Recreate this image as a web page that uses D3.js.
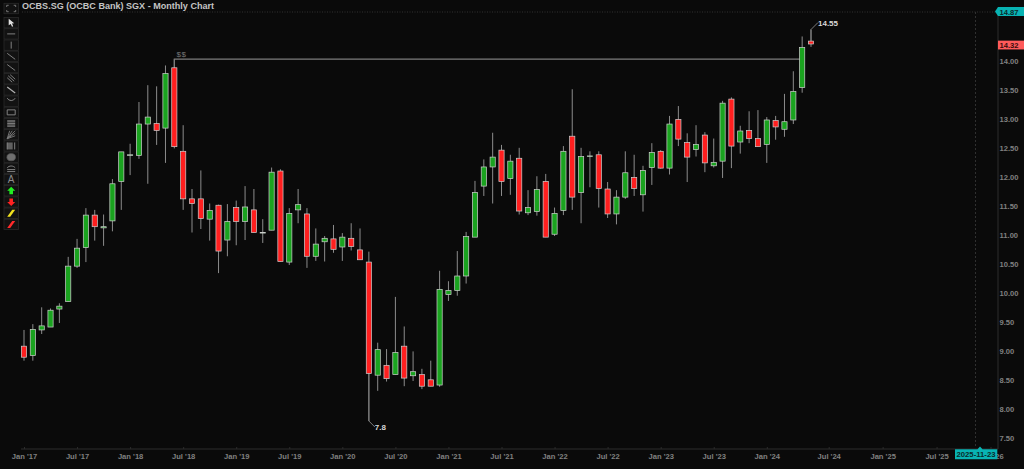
<!DOCTYPE html>
<html>
<head>
<meta charset="utf-8">
<script src="https://cdn.jsdelivr.net/npm/d3@7"></script>
<style>
  html, body { margin: 0; padding: 0; background: #0a0a0a; overflow: hidden; }
  svg { display: block; font-family: "Liberation Sans", Arial, sans-serif; }
  .axis-label { fill: #808080; font-size: 7.6px; font-weight: bold; }
</style>
</head>
<body>
<div id="chart"></div>
<script>
// monthly bars, Jan 2017 to Jun 2024
var opens = [9.09,8.93,9.37,9.42,9.73,9.86,10.47,10.79,11.35,11.13,11.25,11.93,
  12.38,12.38,12.92,12.93,12.85,13.89,12.45,11.63,11.63,11.28,11.52,10.92,
  11.48,11.24,11.44,11.04,11.09,12.11,10.54,11.44,11.37,10.64,10.89,10.94,
  10.80,10.95,10.75,10.54,8.59,8.76,8.60,9.09,8.58,8.60,8.51,8.42,
  9.98,10.05,10.30,10.97,11.85,12.18,12.47,11.98,12.33,11.39,11.41,11.93,
  11.02,11.43,12.71,11.74,12.36,12.39,11.80,11.37,11.66,12.00,11.70,12.17,
  12.45,12.16,13.00,12.60,12.48,12.73,12.20,12.28,13.35,12.61,12.81,12.67,
  12.57,12.98,12.83,12.99,13.55,14.35];
var highs = [9.37,9.47,9.76,9.74,9.83,10.63,10.94,11.47,11.44,11.36,11.97,12.44,
  12.58,13.30,13.59,13.57,13.93,14.04,12.90,11.80,12.12,11.55,11.53,11.54,
  11.60,11.85,11.80,11.28,12.17,12.14,11.47,11.80,11.47,11.12,10.99,11.18,
  11.04,11.21,11.12,10.72,9.15,9.04,9.94,9.43,9.00,8.70,8.84,10.39,
  10.21,10.73,11.06,11.94,12.31,12.77,12.56,12.39,12.51,11.78,12.02,12.06,
  11.48,12.54,13.52,12.51,12.45,12.45,11.92,11.78,12.45,12.39,12.20,12.59,
  12.47,13.06,13.23,12.76,12.90,12.78,12.67,13.32,13.38,12.89,13.14,13.16,
  13.04,13.06,13.44,13.83,14.43,14.55];
var lows = [8.84,8.84,9.30,9.42,9.49,9.86,10.44,10.54,10.91,10.82,11.07,11.44,
  12.04,12.32,11.89,12.56,12.25,12.50,11.44,11.05,11.11,10.91,10.35,10.64,
  10.83,10.92,11.05,10.87,11.09,10.55,10.49,11.21,10.44,10.56,10.55,10.70,
  10.56,10.74,10.58,7.80,8.32,8.48,8.60,8.40,8.49,8.35,8.40,8.39,
  9.87,9.96,10.17,10.97,11.68,11.55,11.68,11.70,11.36,11.35,11.34,10.97,
  10.99,11.35,11.44,11.21,11.83,11.48,11.30,11.19,11.63,11.68,11.41,11.87,
  12.15,12.05,12.54,11.92,12.36,12.09,12.17,11.99,12.16,12.41,12.59,12.53,
  12.25,12.65,12.70,12.92,13.46,14.25];
var closes = [8.90,9.38,9.44,9.71,9.78,10.47,10.78,11.35,11.15,11.15,11.89,12.44,
  12.39,12.92,13.04,12.81,13.79,12.53,11.63,11.55,11.29,11.43,10.73,11.24,
  11.24,11.49,11.05,11.05,12.09,10.55,11.38,11.53,10.64,10.85,10.95,10.76,
  10.97,10.81,10.58,8.62,9.03,8.53,8.98,8.54,8.65,8.40,8.40,10.07,
  10.05,10.30,10.98,11.74,12.18,12.35,11.93,12.28,11.42,11.48,11.79,10.97,
  11.38,12.45,11.66,12.36,12.37,11.81,11.37,11.66,12.08,11.81,12.12,12.43,
  12.16,12.92,12.66,12.35,12.57,12.25,12.26,13.28,12.54,12.80,12.67,12.53,
  12.99,12.87,12.96,13.48,14.24,14.30];

var xTickBars = [0,6,12,18,24,30,36,42,48,54,60,66,72,78,84,91,97.1,103.2,109.3];
var xTickLabels = ["Jan '17","Jul '17","Jan '18","Jul '18","Jan '19","Jul '19","Jan '20","Jul '20",
  "Jan '21","Jul '21","Jan '22","Jul '22","Jan '23","Jul '23","Jan '24","Jul '24","Jan '25","Jul '25","Jan '26"];
var yTicks = [7.5,8,8.5,9,9.5,10,10.5,11,11.5,12,12.5,13,13.5,14];

var toolNames = ["pointer","hline","vline","trend","trend","channel","ray","arc","rect","stack","fan",
  "bars","ellipse","curve","text","up","down","yellow","red"];

var topPrice = 14.87, lastPrice = 14.32;
var bars = d3.range(opens.length);

var width = 1024, height = 469;
var axisRight = 998, axisBottom = 449, topLine = 12;

var svg = d3.select("#chart").append("svg")
  .attr("width", width)
  .attr("height", height);

svg.append("rect")
  .attr("width", width)
  .attr("height", height)
  .attr("fill", "#0a0a0a");

var x = d3.scaleLinear().domain([0, 89]).range([24, 811]);
var y = d3.scaleLinear().domain([7.5, 14]).range([438.4, 61.4]);
var bodyWidth = 5.2;

// frame lines
svg.append("line")
  .attr("x1", 22).attr("x2", axisRight).attr("y1", topLine).attr("y2", topLine)
  .attr("stroke", "#3a3a3a").attr("stroke-width", 0.8).attr("stroke-dasharray", "1,1.5");
svg.append("line")
  .attr("x1", 975.5).attr("x2", 975.5).attr("y1", topLine).attr("y2", 447)
  .attr("stroke", "#3a3a3a").attr("stroke-width", 0.8).attr("stroke-dasharray", "2,2");

// axes
var xAxis = d3.axisBottom(x)
  .tickValues(xTickBars)
  .tickFormat(function (d, i) { return xTickLabels[i]; })
  .tickSize(-2)
  .tickPadding(5);
var xG = svg.append("g")
  .attr("transform", "translate(0," + axisBottom + ")")
  .call(xAxis);
xG.select(".domain").remove();
xG.selectAll("line").attr("stroke", "#2c2c2c");
xG.selectAll("text").attr("class", "axis-label").attr("y", 5).attr("dy", "0.72em");
svg.append("line")
  .attr("x1", 21).attr("x2", axisRight).attr("y1", axisBottom).attr("y2", axisBottom)
  .attr("stroke", "#2c2c2c");

var yAxis = d3.axisRight(y)
  .tickValues(yTicks)
  .tickFormat(d3.format(".2f"))
  .tickSize(0)
  .tickPadding(1.5);
var yG = svg.append("g")
  .attr("transform", "translate(" + axisRight + ",0)")
  .call(yAxis);
yG.select(".domain").remove();
yG.selectAll("text").attr("class", "axis-label");
svg.append("line")
  .attr("x1", axisRight).attr("x2", axisRight).attr("y1", topLine).attr("y2", axisBottom)
  .attr("stroke", "#2c2c2c");

// wicks
svg.selectAll(".wick")
  .data(bars)
  .enter()
  .append("line")
    .attr("class", "wick")
    .attr("x1", function (i) { return x(i); })
    .attr("x2", function (i) { return x(i); })
    .attr("y1", function (i) { return y(highs[i]); })
    .attr("y2", function (i) { return y(lows[i]); })
    .attr("stroke", "#8c8c8c")
    .attr("stroke-width", 1);

// leader lines, drawn with the wicks
var leader = d3.line();
svg.append("path")
  .attr("d", leader([[x(17), y(opens[17])], [x(17), y(highs[17])], [x(88), y(highs[17])]]))
  .attr("fill", "none").attr("stroke", "#7c7c7c").attr("stroke-width", 1.2);
svg.append("path")
  .attr("d", leader([[x(39), y(closes[39])], [x(39), y(lows[39])], [x(39) + 6, y(lows[39]) + 6]]))
  .attr("fill", "none").attr("stroke", "#7c7c7c").attr("stroke-width", 1);
svg.append("path")
  .attr("d", leader([[x(89), y(opens[89])], [x(89), y(highs[89])], [x(89) + 7, y(highs[89]) - 7]]))
  .attr("fill", "none").attr("stroke", "#7c7c7c").attr("stroke-width", 1);

// bodies
svg.selectAll(".body")
  .data(bars)
  .enter()
  .append("rect")
    .attr("class", "body")
    .attr("x", function (i) { return x(i) - bodyWidth / 2; })
    .attr("y", function (i) { return y(Math.max(opens[i], closes[i])); })
    .attr("width", bodyWidth)
    .attr("height", function (i) { return Math.abs(y(opens[i]) - y(closes[i])); })
    .attr("fill", function (i) { return closes[i] >= opens[i] ? "#1aa31f" : "#ff1f1f"; })
    .attr("stroke", "#d0d0d0")
    .attr("stroke-width", 0.7);

// annotations
svg.append("text")
  .attr("x", 176.5).attr("y", 56.5)
  .attr("fill", "#777").attr("font-size", 8).attr("letter-spacing", 0.6)
  .text("$$");
svg.append("text")
  .attr("x", x(39) + 6).attr("y", y(lows[39]) + 9)
  .attr("fill", "#d8d8d8").attr("font-size", 8).attr("font-weight", "bold")
  .text("7.8");
svg.append("text")
  .attr("x", x(89) + 7).attr("y", y(highs[89]) - 3.5)
  .attr("fill", "#d8d8d8").attr("font-size", 8).attr("font-weight", "bold")
  .text("14.55");

// title
svg.append("text")
  .attr("x", 22).attr("y", 9)
  .attr("fill", "#c4c4c4").attr("font-size", 9.05).attr("font-weight", "bold")
  .text("OCBS.SG (OCBC Bank) SGX - Monthly Chart");

// price flags on the right
svg.append("path")
  .attr("d", leader([[995, y(topPrice) + 0.5], [998, y(topPrice) - 4], [width, y(topPrice) - 4], [width, y(topPrice) + 5], [998, y(topPrice) + 5]]) + "Z")
  .attr("fill", "#08b3b3");
svg.append("text")
  .attr("x", 999.5).attr("y", y(topPrice) + 3.7)
  .attr("fill", "#0b2b2b").attr("font-size", 7.6).attr("font-weight", "bold")
  .text(d3.format(".2f")(topPrice));
svg.append("rect")
  .attr("x", 998).attr("y", y(lastPrice) - 2.2)
  .attr("width", 26).attr("height", 8.8)
  .attr("fill", "#ff5a5a");
svg.append("text")
  .attr("x", 999.5).attr("y", y(lastPrice) + 5)
  .attr("fill", "#3a0d0d").attr("font-size", 7.6).attr("font-weight", "bold")
  .text(d3.format(".2f")(lastPrice));

// cursor date flag
svg.append("path")
  .attr("d", "M955,449.3H977.5L980,446.5L982.5,449.3H997.3V459.3H955Z")
  .attr("fill", "#08b3b3");
svg.append("text")
  .attr("x", 976).attr("y", 457.3).attr("text-anchor", "middle")
  .attr("fill", "#0b2b2b").attr("font-size", 7.7).attr("font-weight", "bold")
  .text("2025-11-23");

// toolbar
function drawTool(g, name) {
  var stroke = "#8c8c8c";
  function line(d, col, w) {
    g.append("path").attr("d", d).attr("fill", "none").attr("stroke", col || stroke).attr("stroke-width", w || 0.9);
  }
  function fill(d, col) {
    g.append("path").attr("d", d).attr("fill", col);
  }
  switch (name) {
    case "pointer": fill("M-2.5,-4L3,0.5L0.8,0.8L2,3.6L0.8,4L-0.5,1.3L-2.5,2.6Z", "#e0e0e0"); break;
    case "hline": line("M-4,0H4"); break;
    case "vline": line("M0,-3.5V3.5"); break;
    case "trend": line("M-4,-3L4,3"); break;
    case "channel": line("M-4,-1L1,3.5M-3,-3L3,2.5M-1,-4L4,0.5"); break;
    case "ray": line("M-4,-3L4,3", "#b0b0b0", 1.2); break;
    case "arc": line("M-4,-3A4.5,4.5 0 0 0 4,-3"); break;
    case "rect": line("M-4,-2.5H4V2.5H-4Z"); break;
    case "stack":
      fill("M-4,-3.5H4V-1.6H-4Z", "#666666");
      fill("M-4,-1H4V1H-4Z", "#7a7a7a");
      fill("M-4,1.6H4V3.5H-4Z", "#666666");
      break;
    case "fan": line("M-4,4L4,-4M-4,4L4,-1.5M-4,4L4,1M-4,4L1,-4M-4,4L-1.5,-4", "#7a7a7a", 0.9); break;
    case "bars":
      fill("M-4,-3.5H1.5V3.5H-4Z", "#606060");
      line("M-4,-3.5V3.5M3.5,-3.5V3.5", "#8c8c8c");
      break;
    case "ellipse":
      g.append("ellipse").attr("rx", 4.3).attr("ry", 3.6).attr("fill", "#707070").attr("stroke", "#555").attr("stroke-width", 0.7);
      break;
    case "curve": line("M-4,-0.5C-2,-3 2,-3 4,-0.5M-4,1.2H4M-4,3.2H4"); break;
    case "text":
      g.append("text").attr("text-anchor", "middle").attr("y", 3.6).attr("fill", "#8c8c8c").attr("font-size", 10).text("A");
      break;
    case "up": fill("M0,-4L4,0H1.8V3.5H-1.8V0H-4Z", "#22ee22"); break;
    case "down": fill("M0,4L4,0H1.8V-3.5H-1.8V0H-4Z", "#ff2222"); break;
    case "yellow": fill("M-1,3.5H-4L1,-3.5H4Z", "#f2e21e"); break;
    case "red": fill("M-1,3.5H-4L1,-3.5H4Z", "#ff2a2a"); break;
  }
}

var toolY = d3.scaleLinear().domain([0, 18]).range([22.7, 224.4]);

svg.selectAll(".tool")
  .data(toolNames)
  .enter()
  .append("g")
    .attr("class", "tool")
    .attr("transform", function (d, i) { return "translate(11.2," + toolY(i) + ")"; })
    .each(function (d) {
      var g = d3.select(this);
      g.append("rect")
        .attr("x", -7.2).attr("y", -5.2).attr("width", 14.4).attr("height", 10.4)
        .attr("fill", "#121212").attr("stroke", "#2a2a2a").attr("stroke-width", 0.8);
      drawTool(g, d);
    });

var full = svg.append("g").attr("transform", "translate(11.2,8.5)");
full.append("rect")
  .attr("x", -7.2).attr("y", -5.2).attr("width", 14.4).attr("height", 10.4)
  .attr("fill", "#121212").attr("stroke", "#2a2a2a").attr("stroke-width", 0.8);
full.append("path")
  .attr("d", "M-4.5,-1.5V-3.2H-2.5M2.5,-3.2H4.5V-1.5M4.5,1.5V3.2H2.5M-2.5,3.2H-4.5V1.5")
  .attr("fill", "none").attr("stroke", "#8c8c8c").attr("stroke-width", 0.8);
</script>
</body>
</html>
